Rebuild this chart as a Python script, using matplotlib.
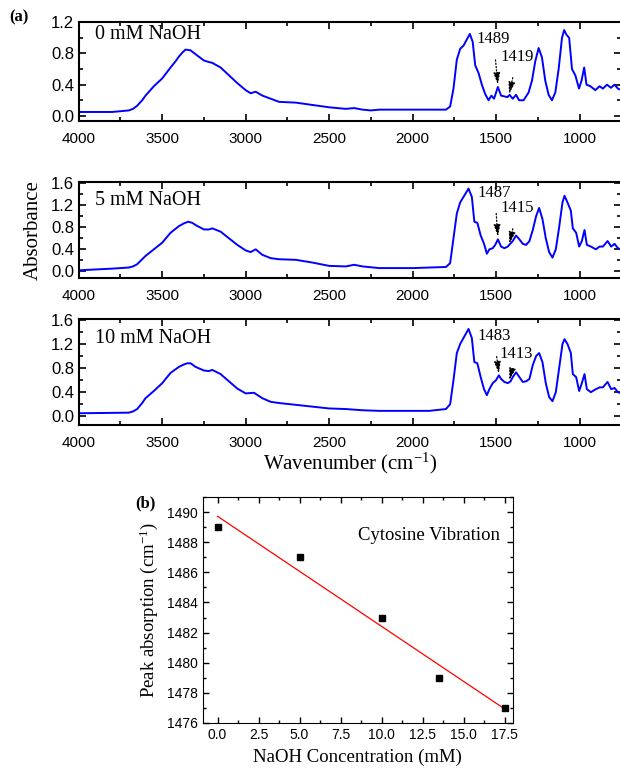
import numpy as np
import matplotlib.pyplot as plt
from matplotlib.ticker import MultipleLocator

SERIF = 'Liberation Serif'
SANS = 'Liberation Sans'
plt.rcParams['mathtext.fontset'] = 'custom'
plt.rcParams['mathtext.rm'] = SERIF
plt.rcParams['mathtext.it'] = SERIF + ':italic'
plt.rcParams['mathtext.default'] = 'regular'

# spectra (wavenumber, absorbance)
wn_0 = [4000, 3800, 3700, 3675, 3650, 3620, 3600, 3550, 3500, 3450, 3420, 3400, 3380, 3360,
        3330, 3300, 3250, 3220, 3200, 3150, 3100, 3050, 3000, 2970, 2940, 2900, 2850, 2800,
        2700, 2600, 2500, 2400, 2350, 2300, 2250, 2200, 1800, 1775, 1755, 1735, 1715, 1695,
        1675, 1657, 1640, 1625, 1605, 1585, 1565, 1545, 1528, 1512, 1489, 1470, 1450, 1432,
        1419, 1400, 1380, 1362, 1335, 1305, 1285, 1265, 1245, 1225, 1205, 1185, 1165, 1145,
        1125, 1105, 1092, 1078, 1062, 1045, 1025, 1003, 988, 972, 958, 935, 905, 880, 860,
        835, 812, 790, 770, 750]
ab_0 = [0.05, 0.05, 0.07, 0.09, 0.13, 0.20, 0.26, 0.38, 0.48, 0.62, 0.70, 0.76, 0.81, 0.85,
        0.84, 0.79, 0.71, 0.69, 0.68, 0.62, 0.52, 0.42, 0.33, 0.29, 0.31, 0.26, 0.22, 0.18,
        0.17, 0.14, 0.11, 0.09, 0.10, 0.08, 0.07, 0.08, 0.08, 0.12, 0.35, 0.72, 0.86, 0.90,
        0.98, 1.05, 0.95, 0.65, 0.55, 0.40, 0.28, 0.20, 0.26, 0.22, 0.37, 0.26, 0.25, 0.24,
        0.27, 0.22, 0.27, 0.20, 0.20, 0.30, 0.45, 0.70, 0.87, 0.75, 0.45, 0.27, 0.20, 0.30,
        0.60, 1.00, 1.10, 1.04, 1.00, 0.60, 0.52, 0.35, 0.45, 0.62, 0.40, 0.38, 0.33, 0.38,
        0.35, 0.40, 0.36, 0.40, 0.35, 0.33]

wn_5 = [4000, 3800, 3700, 3675, 3650, 3620, 3600, 3550, 3500, 3450, 3400, 3370, 3345, 3320,
        3300, 3250, 3220, 3200, 3150, 3100, 3050, 3000, 2970, 2940, 2900, 2850, 2800, 2700,
        2600, 2500, 2400, 2350, 2300, 2200, 2000, 1800, 1775, 1755, 1735, 1715, 1695, 1665,
        1645, 1630, 1612, 1592, 1572, 1555, 1540, 1520, 1505, 1489, 1470, 1450, 1430, 1415,
        1400, 1380, 1360, 1340, 1320, 1300, 1280, 1260, 1242, 1222, 1202, 1182, 1162, 1142,
        1122, 1102, 1090, 1072, 1052, 1040, 1020, 1002, 986, 970, 956, 932, 902, 880, 860,
        832, 810, 790, 770, 750]
ab_5 = [0.02, 0.05, 0.07, 0.09, 0.13, 0.22, 0.28, 0.40, 0.52, 0.70, 0.82, 0.87, 0.90, 0.88,
        0.84, 0.76, 0.76, 0.78, 0.72, 0.60, 0.48, 0.38, 0.35, 0.40, 0.30, 0.24, 0.22, 0.21,
        0.16, 0.10, 0.09, 0.12, 0.09, 0.06, 0.06, 0.08, 0.15, 0.60, 1.05, 1.25, 1.35, 1.50,
        1.35, 0.90, 0.88, 0.65, 0.50, 0.32, 0.40, 0.42, 0.48, 0.58, 0.45, 0.42, 0.45, 0.50,
        0.55, 0.65, 0.58, 0.50, 0.48, 0.55, 0.75, 1.00, 1.15, 0.95, 0.60, 0.35, 0.25, 0.40,
        0.80, 1.25, 1.37, 1.25, 1.10, 0.78, 0.70, 0.45, 0.55, 0.75, 0.48, 0.45, 0.40, 0.45,
        0.45, 0.55, 0.45, 0.50, 0.42, 0.40]

wn_10 = [4000, 3700, 3675, 3650, 3620, 3600, 3550, 3500, 3450, 3400, 3370, 3350, 3330, 3300,
         3250, 3220, 3200, 3150, 3100, 3050, 3000, 2950, 2900, 2850, 2800, 2700, 2600, 2500,
         2400, 2300, 2200, 1900, 1800, 1775, 1755, 1735, 1715, 1695, 1665, 1645, 1630, 1612,
         1592, 1572, 1555, 1540, 1520, 1500, 1483, 1470, 1450, 1430, 1413, 1400, 1380, 1360,
         1340, 1320, 1300, 1280, 1260, 1242, 1222, 1202, 1182, 1162, 1142, 1122, 1102, 1090,
         1072, 1052, 1040, 1020, 1002, 986, 970, 956, 932, 902, 880, 860, 832, 810, 790, 770,
         750]
ab_10 = [0.05, 0.06, 0.08, 0.12, 0.22, 0.30, 0.42, 0.55, 0.72, 0.82, 0.86, 0.88, 0.88, 0.82,
         0.76, 0.75, 0.77, 0.70, 0.58, 0.46, 0.38, 0.39, 0.30, 0.24, 0.22, 0.19, 0.16, 0.13,
         0.12, 0.10, 0.09, 0.09, 0.12, 0.20, 0.60, 1.05, 1.20, 1.30, 1.45, 1.30, 0.90, 0.88,
         0.65, 0.45, 0.35, 0.45, 0.55, 0.60, 0.68, 0.62, 0.57, 0.55, 0.58, 0.65, 0.73, 0.65,
         0.57, 0.58, 0.62, 0.85, 1.00, 1.05, 0.90, 0.55, 0.32, 0.25, 0.40, 0.80, 1.20, 1.28,
         1.20, 1.05, 0.70, 0.65, 0.42, 0.55, 0.70, 0.45, 0.40, 0.45, 0.48, 0.48, 0.57, 0.45,
         0.47, 0.40, 0.38]

panel_names = ['0 mM NaOH', '5 mM NaOH', '10 mM NaOH']
peak_labels = [('1489', '1419'), ('1487', '1415'), ('1483', '1413')]
peak_tips = [((1489, 0.40), (1422, 0.28)), ((1489, 0.63), (1420, 0.50)), ((1483, 0.71), (1420, 0.60))]
peak_text = [((1515, 0.98), (1372, 0.75)), ((1508, 1.42), (1372, 1.14)), ((1512, 1.33), (1380, 1.03))]

# panel (b)
conc = [0.0, 5.0, 10.0, 13.5, 17.5]
peak_pos = [1489, 1487, 1483, 1479, 1477]

fig = plt.figure(figsize=(6.2, 7.68), dpi=100)

ylims = [(-0.07, 1.2), (-0.12, 1.62), (-0.14, 1.62)]
yticks = [[0.0, 0.4, 0.8, 1.2], [0.0, 0.4, 0.8, 1.2, 1.6], [0.0, 0.4, 0.8, 1.2, 1.6]]
boxes = [[0.127, 0.842, 0.875, 0.129], [0.127, 0.638, 0.875, 0.125], [0.127, 0.447, 0.875, 0.138]]
spectra = [(wn_0, ab_0), (wn_5, ab_5), (wn_10, ab_10)]

for i in range(3):
    ax = fig.add_axes(boxes[i])
    wn, ab = spectra[i]
    ax.plot(wn, ab, color='#0000ff', linewidth=1.4)
    ax.set_xlim(4000, 750)
    ax.set_ylim(*ylims[i])
    ax.set_xticks([4000, 3500, 3000, 2500, 2000, 1500, 1000])
    ax.xaxis.set_minor_locator(MultipleLocator(250))
    ax.set_yticks(yticks[i])
    ax.yaxis.set_minor_locator(MultipleLocator(0.2))
    ax.set_yticklabels(['%.1f' % v for v in yticks[i]])
    ax.tick_params(which='both', direction='in', top=True, right=True, width=1.2)
    ax.tick_params(which='major', length=5)
    ax.tick_params(which='minor', length=3)
    ax.tick_params(axis='y', labelsize=12)
    ax.tick_params(axis='x', labelsize=11, pad=8)
    for lab in ax.get_xticklabels() + ax.get_yticklabels():
        lab.set_fontfamily(SANS)
    for s in ax.spines.values():
        s.set_linewidth(1.5)
    ax.text(0.03, 0.88 if i == 0 else 0.81, panel_names[i], transform=ax.transAxes,
            fontsize=14.5, family=SERIF, va='center', ha='left')
    for lab, tip, txt in zip(peak_labels[i], peak_tips[i], peak_text[i]):
        ax.annotate(lab, xy=tip, xytext=txt, fontsize=12, family=SERIF,
                    ha='center', va='center',
                    arrowprops=dict(arrowstyle='-|>,head_length=0.7,head_width=0.2',
                                    linestyle=':', color='black', fc='black',
                                    lw=0.9, shrinkA=7, shrinkB=0, mutation_scale=10))
    if i == 1:
        ax.set_ylabel('Absorbance', fontsize=15, family=SERIF, labelpad=6)
    if i == 2:
        ax.set_xlabel('Wavenumber (cm$^{-1}$)', fontsize=15, family=SERIF, labelpad=1)

fig.text(0.015, 0.978, '(a)', fontsize=12, family=SERIF, fontweight='bold', va='center')

# panel (b)
axb = fig.add_axes([0.327, 0.0586, 0.5, 0.2943])
slope, icept = np.polyfit(conc, peak_pos, 1)
fit_x = np.array([conc[0], conc[-1]])
axb.plot(fit_x, slope * fit_x + icept, color='#ff0000', linewidth=0.9)
axb.plot(conc, peak_pos, 's', color='black', markersize=5)
axb.set_xlim(-0.9, 18)
axb.set_ylim(1476, 1491)
axb.set_xticks([0, 2.5, 5, 7.5, 10, 12.5, 15, 17.5])
axb.set_xticklabels(['0.0', '2.5', '5.0', '7.5', '10.0', '12.5', '15.0', '17.5'])
axb.xaxis.set_minor_locator(MultipleLocator(1.25))
axb.set_yticks(range(1476, 1491, 2))
axb.yaxis.set_minor_locator(MultipleLocator(1))
axb.tick_params(which='both', direction='in', top=True, right=True, labelsize=10, width=1.0)
axb.tick_params(which='major', length=4)
axb.tick_params(which='minor', length=2)
for lab in axb.get_xticklabels() + axb.get_yticklabels():
    lab.set_fontfamily(SANS)
axb.text(0.96, 0.83, 'Cytosine Vibration', transform=axb.transAxes, fontsize=13.5,
         family=SERIF, ha='right', va='center')
axb.set_xlabel('NaOH Concentration (mM)', fontsize=13.5, family=SERIF, labelpad=5)
axb.set_ylabel('Peak absorption (cm$^{-1}$)', fontsize=13.5, family=SERIF, labelpad=5)
fig.text(0.218, 0.345, '(b)', fontsize=12, family=SERIF, fontweight='bold', va='center')

plt.savefig('out.png', dpi=100)
